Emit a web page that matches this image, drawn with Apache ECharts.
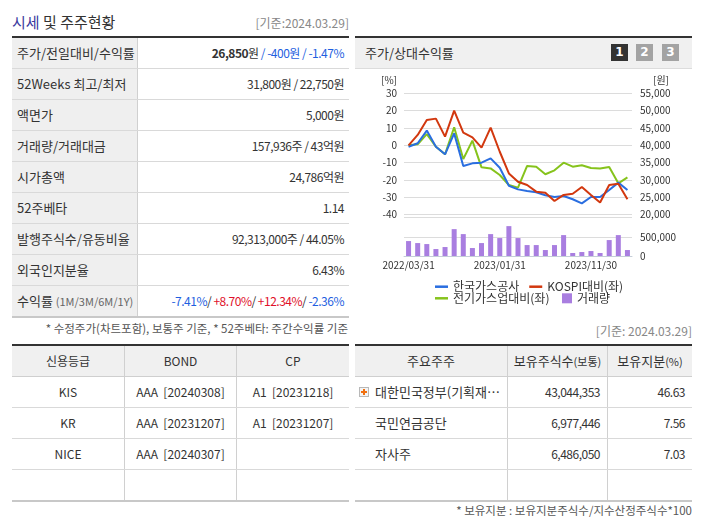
<!DOCTYPE html>
<html><head><meta charset="utf-8">
<script src="https://cdn.jsdelivr.net/npm/echarts@6/dist/echarts.min.js"></script>
<style>
*{box-sizing:border-box;margin:0;padding:0}
body{width:702px;height:525px;position:relative;background:#fff;font-family:'Noto Sans CJK KR','Noto Sans',sans-serif;color:#333;overflow:hidden}
.abs{position:absolute}
.row{display:flex;height:31px;border-bottom:1px solid #d9d9d9}
.row.last{height:32px;border-bottom:2px solid #c8c8c8}
.lab{width:126px;background:#efefef;border-right:1px solid #d0d0d0;padding-left:5px;font-size:13px;line-height:30px;white-space:nowrap}
.val{flex:1;text-align:right;padding-right:5px;font-size:12px;line-height:30px;white-space:nowrap;letter-spacing:-0.5px}
.blue{color:#1f5fe0}.red{color:#e0102a}
.cell{font-size:12px;line-height:30px;text-align:center;white-space:nowrap;overflow:hidden}
.num{letter-spacing:-0.5px}
.bl{border-left:1px solid #d0d0d0}
.hdr{background:#f0f0f0;border-bottom:1px solid #cfcfcf}
small{font-size:11px}
.btn{position:absolute;width:17px;height:17px;color:#fff;font-size:12px;font-weight:bold;line-height:17px;text-align:center;font-family:'DejaVu Sans',sans-serif}
.plus{position:absolute;left:4px;top:10px;width:10px;height:10px;border:1px solid #b8b8b8;background:#f4f4f4}
.plus:before{content:'';position:absolute;left:3px;top:1px;width:2px;height:6px;background:#f07010}
.plus:after{content:'';position:absolute;left:1px;top:3px;width:6px;height:2px;background:#f07010}
</style></head><body>

<div class="abs" style="left:12px;top:12px;font-size:15px;line-height:20px;"><span style="color:#3a3a9e">시세</span> 및 주주현황</div>
<div class="abs" style="right:353px;top:15px;font-size:12px;line-height:16px;color:#888">[기준:2024.03.29]</div>

<div class="abs" style="left:12px;top:36px;width:337px;border-top:2px solid #333">
  <div class="row"><div class="lab">주가/전일대비/수익률</div><div class="val"><b>26,850</b>원 <span class="blue">/ -400원 / -1.47%</span></div></div>
  <div class="row"><div class="lab">52Weeks 최고/최저</div><div class="val">31,800원 / 22,750원</div></div>
  <div class="row"><div class="lab">액면가</div><div class="val">5,000원</div></div>
  <div class="row"><div class="lab">거래량/거래대금</div><div class="val">157,936주 / 43억원</div></div>
  <div class="row"><div class="lab">시가총액</div><div class="val">24,786억원</div></div>
  <div class="row"><div class="lab">52주베타</div><div class="val">1.14</div></div>
  <div class="row"><div class="lab">발행주식수/유동비율</div><div class="val">92,313,000주 / 44.05%</div></div>
  <div class="row"><div class="lab">외국인지분율</div><div class="val">6.43%</div></div>
  <div class="row last"><div class="lab">수익률 <small style="color:#666">(1M/3M/6M/1Y)</small></div><div class="val"><span class="blue">-7.41%</span>/ <span class="red">+8.70%</span>/ <span class="red">+12.34%</span>/ <span class="blue">-2.36%</span></div></div>
</div>
<div class="abs" style="right:354px;top:320px;font-size:11.5px;line-height:16px;color:#555">* 수정주가(차트포함), 보통주 기준, * 52주베타: 주간수익률 기준</div>

<div class="abs" style="left:355px;top:36px;width:337px;height:33px;border-top:2px solid #333;background:#f0f0f0;border-bottom:1px solid #dcdcdc">
  <div style="padding-left:10px;font-size:13px;line-height:30px">주가/상대수익률</div>
</div>
<div class="btn" style="left:611px;top:44px;background:#333">1</div>
<div class="btn" style="left:636px;top:44px;background:#a3a3a3">2</div>
<div class="btn" style="left:662px;top:44px;background:#a3a3a3">3</div>

<div id="chart" class="abs" style="left:355px;top:70px;width:337px;height:240px"></div>

<div class="abs" style="left:12px;top:344px;width:337px;border-top:2px solid #333">
  <div class="row hdr"><div class="cell" style="width:112px">신용등급</div><div class="cell bl" style="width:112px">BOND</div><div class="cell bl" style="flex:1">CP</div></div>
  <div class="row"><div class="cell" style="width:112px">KIS</div><div class="cell bl" style="width:112px">AAA&nbsp;&nbsp;[20240308]</div><div class="cell bl" style="flex:1">A1&nbsp;&nbsp;[20231218]</div></div>
  <div class="row"><div class="cell" style="width:112px">KR</div><div class="cell bl" style="width:112px">AAA&nbsp;&nbsp;[20231207]</div><div class="cell bl" style="flex:1">A1&nbsp;&nbsp;[20231207]</div></div>
  <div class="row"><div class="cell" style="width:112px">NICE</div><div class="cell bl" style="width:112px">AAA&nbsp;&nbsp;[20240307]</div><div class="cell bl" style="flex:1"></div></div>
  <div class="row last"><div class="cell" style="width:112px"></div><div class="cell bl" style="width:112px"></div><div class="cell bl" style="flex:1"></div></div>
</div>

<div class="abs" style="right:10px;top:323px;font-size:12px;line-height:16px;color:#888">[기준: 2024.03.29]</div>
<div class="abs" style="left:355px;top:344px;width:337px;border-top:2px solid #333">
  <div class="row hdr"><div class="cell" style="width:152px;font-size:13px">주요주주</div><div class="cell bl" style="width:100px;font-size:13px">보유주식수<small>(보통)</small></div><div class="cell bl" style="flex:1;font-size:13px">보유지분<small>(%)</small></div></div>
  <div class="row"><div class="cell" style="width:152px;text-align:left;padding-left:20px;position:relative;font-size:13px;overflow:visible"><span class="plus"></span>대한민국정부(기획재…</div><div class="cell bl num" style="width:100px;text-align:right;padding-right:7px">43,044,353</div><div class="cell bl num" style="flex:1;text-align:right;padding-right:7px">46.63</div></div>
  <div class="row"><div class="cell" style="width:152px;text-align:left;padding-left:20px;font-size:13px">국민연금공단</div><div class="cell bl num" style="width:100px;text-align:right;padding-right:7px">6,977,446</div><div class="cell bl num" style="flex:1;text-align:right;padding-right:7px">7.56</div></div>
  <div class="row"><div class="cell" style="width:152px;text-align:left;padding-left:20px;font-size:13px">자사주</div><div class="cell bl num" style="width:100px;text-align:right;padding-right:7px">6,486,050</div><div class="cell bl num" style="flex:1;text-align:right;padding-right:7px">7.03</div></div>
  <div class="row last"><div class="cell" style="width:152px"></div><div class="cell bl" style="width:100px"></div><div class="cell bl" style="flex:1"></div></div>
</div>
<div class="abs" style="right:10px;top:502px;font-size:11.5px;line-height:16px;color:#555">* 보유지분 : 보유지분주식수/지수산정주식수*100</div>

<script>
const categories = ['2022/03/31','2022/04/29','2022/05/31','2022/06/30','2022/07/29','2022/08/31','2022/09/30','2022/10/31','2022/11/30','2022/12/29','2023/01/31','2023/02/28','2023/03/31','2023/04/28','2023/05/31','2023/06/30','2023/07/31','2023/08/31','2023/09/27','2023/10/31','2023/11/30','2023/12/28','2024/01/31','2024/02/29','2024/03/29'];
const kogas = [-0.8,1.2,8.5,-0.8,-5.2,6.9,-11.9,-10.4,-10,-7.5,-12.9,-23.3,-25.4,-26.3,-27.1,-28.8,-29.8,-29.2,-31.1,-33.5,-29.8,-29.8,-25.8,-21.5,-25.8];
const kospiRel = [0,6,14.6,15.4,5,20,7.3,4.6,-1.3,10.2,-3.7,-16.2,-21,-22.9,-26.7,-27.3,-32.1,-28.6,-27.9,-24,-28.6,-33,-22.9,-22.1,-31.1];
const utilRel = [0,0.6,6.5,-0.8,-5.2,10.4,-7.9,2.7,-12.7,-13.3,-17.1,-22.9,-24.4,-11.9,-12.3,-16.7,-14.4,-10,-12.3,-11.5,-13.1,-13.4,-12.5,-21.9,-18.5];
const volume = [388000,336000,310000,181000,233000,698000,569000,207000,336000,569000,466000,776000,466000,284000,284000,155000,284000,543000,78000,103000,129000,78000,414000,543000,155000];
const seriesNames = ['한국가스공사','KOSPI대비(좌)','전기가스업대비(좌)','거래량'];

const FONT = "'Noto Sans CJK KR','Noto Sans',sans-serif";
const chart = echarts.init(document.getElementById('chart'));
const axisCol = '#c5ced8';
const gridCol = '#dcdcdc';
const legText = {fontSize: 12, color: '#333'};
chart.setOption({
  animation: false,
  textStyle: {fontFamily: FONT},
  grid: [
    {left: 49, top: 23.3, width: 228, height: 121.4},
    {left: 49, top: 147.5, width: 228, height: 38.5}
  ],
  legend: [
    {data: [seriesNames[0], seriesNames[1]], icon: 'rect', left: 80, top: 210.7, padding: 0, itemWidth: 13, itemHeight: 2.5, itemGap: 10, selectedMode: false, textStyle: legText},
    {data: [seriesNames[2]], icon: 'rect', left: 80, top: 222.3, padding: 0, itemWidth: 13, itemHeight: 2.5, itemGap: 10, selectedMode: false, textStyle: legText},
    {data: [seriesNames[3]], icon: 'rect', left: 207, top: 222.3, padding: 0, itemWidth: 10, itemHeight: 10, itemGap: 10, selectedMode: false, textStyle: legText}
  ],
  xAxis: [
    {type: 'category', gridIndex: 0, data: categories, boundaryGap: true, show: false},
    {type: 'category', gridIndex: 1, data: categories, boundaryGap: true,
      axisLine: {lineStyle: {color: axisCol}},
      axisTick: {length: 4, interval: function (i) { return i === 0 || i === 1 || i === 11 || i === 21; }, lineStyle: {color: axisCol}},
      axisLabel: {interval: 9, fontSize: 10, color: '#333', margin: 4}}
  ],
  yAxis: [
    {type: 'value', gridIndex: 0, position: 'left', min: -40, max: 30, interval: 10,
      name: '[%]', nameLocation: 'end', nameGap: 13,
      nameTextStyle: {fontSize: 10, color: '#333', align: 'right', verticalAlign: 'middle', padding: [0, 7, 0, 0]},
      axisLine: {show: false}, axisTick: {show: false},
      axisLabel: {fontSize: 10, color: '#333', margin: 7},
      splitLine: {lineStyle: {color: gridCol}}},
    {type: 'value', gridIndex: 0, position: 'right', min: 20000, max: 55000, interval: 5000,
      name: '[원]', nameLocation: 'end', nameGap: 13,
      nameTextStyle: {fontSize: 10, color: '#333', align: 'left', verticalAlign: 'middle', padding: [0, 0, 0, 21]},
      axisLine: {show: false}, axisTick: {show: false},
      axisLabel: {fontSize: 10, color: '#333', margin: 8, formatter: v => v.toLocaleString('en-US')},
      splitLine: {show: false}},
    {type: 'value', gridIndex: 1, position: 'right', min: 0, max: 1000000, interval: 500000,
      axisLine: {show: false}, axisTick: {show: false},
      axisLabel: {fontSize: 10, color: '#333', margin: 8, showMaxLabel: false, formatter: v => v.toLocaleString('en-US')},
      splitLine: {lineStyle: {color: gridCol}}}
  ],
  series: [
    {name: seriesNames[3], type: 'bar', xAxisIndex: 1, yAxisIndex: 2, data: volume, barWidth: 5, itemStyle: {color: '#a97ee0'}},
    {name: seriesNames[2], type: 'line', xAxisIndex: 0, yAxisIndex: 0, data: utilRel, symbol: 'none', lineStyle: {width: 2, color: '#86c31c'}, itemStyle: {color: '#86c31c'}},
    {name: seriesNames[0], type: 'line', xAxisIndex: 0, yAxisIndex: 0, data: kogas, symbol: 'none', lineStyle: {width: 2, color: '#2a6ee0'}, itemStyle: {color: '#2a6ee0'}},
    {name: seriesNames[1], type: 'line', xAxisIndex: 0, yAxisIndex: 0, data: kospiRel, symbol: 'none', lineStyle: {width: 2, color: '#d2380f'}, itemStyle: {color: '#d2380f'}}
  ]
});
</script>
</body></html>
